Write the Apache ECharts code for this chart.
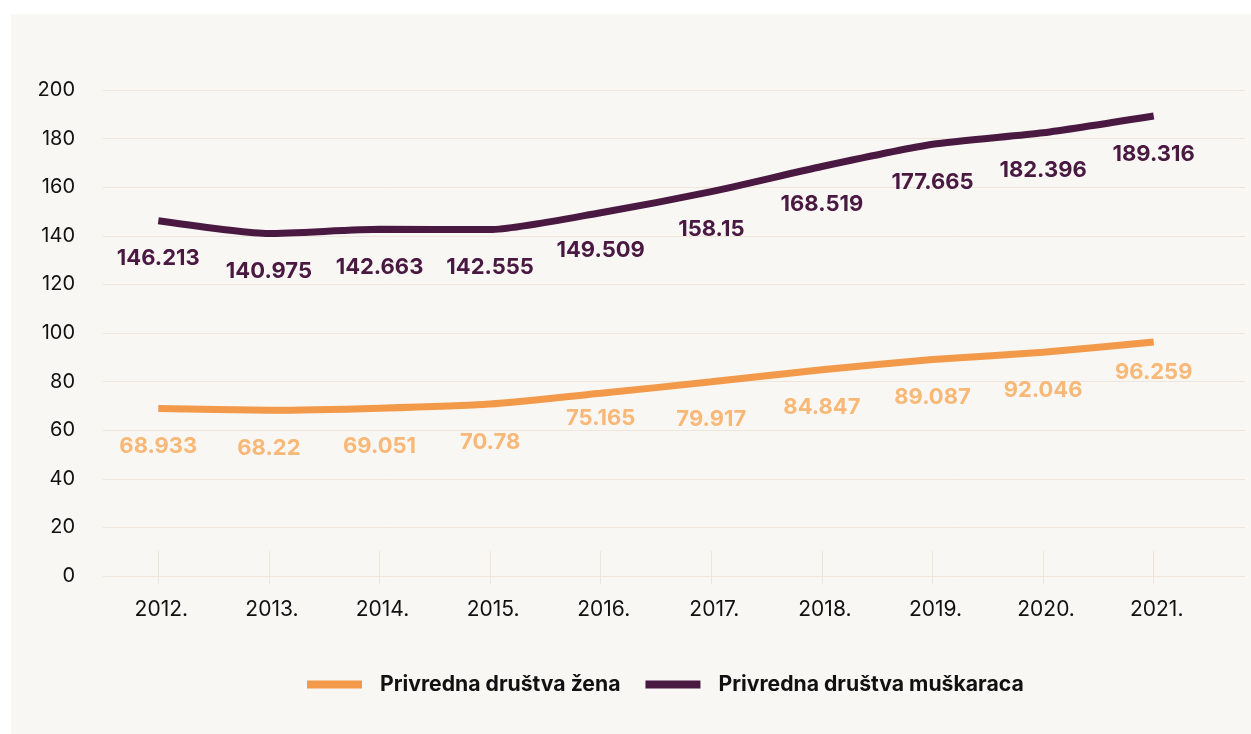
<!DOCTYPE html>
<html>
<head>
<meta charset="utf-8">
<script src="https://cdn.jsdelivr.net/npm/echarts@6/dist/echarts.min.js"></script>
<style>
  html, body { margin: 0; padding: 0; background: #ffffff; width: 1251px; height: 734px; overflow: hidden; }
  #c { position: absolute; left: 11px; top: 14px; width: 1240px; height: 720px; }
</style>
</head>
<body>
<div id="c"></div>
<script>
const categories = ['2012.', '2013.', '2014.', '2015.', '2016.', '2017.', '2018.', '2019.', '2020.', '2021.'];
const zene = [68.933, 68.22, 69.051, 70.78, 75.165, 79.917, 84.847, 89.087, 92.046, 96.259];
const muskarci = [146.213, 140.975, 142.663, 142.555, 149.509, 158.15, 168.519, 177.665, 182.396, 189.316];
const seriesNames = ['Privredna društva žena', 'Privredna društva muškaraca'];

// style-only label nudges (index -> vertical px)
const zeneNudge = {4: -13, 9: -8};

const gridColor = '#f0e5db';
const orange = '#f2994a';
const orangeLabel = '#f8b877';
const plum = '#4a1942';

function withNudge(vals, nudge) {
  return vals.map((v, i) => nudge[i] ? { value: v, label: { offset: [0, nudge[i]] } } : v);
}

const chart = echarts.init(document.getElementById('c'), null, { renderer: 'canvas' });
chart.setOption({
  backgroundColor: '#f9f7f4',
  animation: false,
  textStyle: { fontFamily: 'Inter, "Noto Sans", sans-serif' },
  grid: [
    { left: 92, right: 42, top: 76, bottom: 158 },
    { left: 92, right: 6, top: 76, bottom: 158 }
  ],
  xAxis: [
    {
      type: 'category', gridIndex: 0, data: categories, boundaryGap: true,
      offset: -25,
      axisLine: { show: false },
      axisTick: { show: true, alignWithLabel: true, length: 33, lineStyle: { color: gridColor, width: 1 } },
      axisLabel: { margin: 48, color: '#111111', fontSize: 21, fontFamily: 'Inter', padding: [0, 0, 0, 6] },
      splitLine: { show: false }
    },
    {
      type: 'value', gridIndex: 1, min: 0, max: 1, show: false
    }
  ],
  yAxis: [
    {
      type: 'value', gridIndex: 0, min: 0, max: 200, interval: 20,
      axisLine: { show: false }, axisTick: { show: false },
      axisLabel: { margin: 28, color: '#111111', fontSize: 20, fontFamily: 'Inter' },
      splitLine: { show: false }
    },
    {
      type: 'value', gridIndex: 1, min: 0, max: 200, interval: 20,
      axisLine: { show: false }, axisTick: { show: false }, axisLabel: { show: false },
      splitLine: { show: true, lineStyle: { color: gridColor, width: 1 } }
    }
  ],
  legend: {
    left: 296, top: 660, padding: 0,
    icon: 'rect', itemWidth: 55, itemHeight: 8, itemGap: 25,
    textStyle: { fontFamily: 'Inter', fontWeight: 'bold', fontSize: 21.2, color: '#111111', padding: [0, 0, 0, 13] },
    data: seriesNames
  },
  series: [
    {
      name: seriesNames[0], type: 'line', xAxisIndex: 0, yAxisIndex: 0,
      data: withNudge(zene, zeneNudge), smooth: 0.2, showSymbol: true, symbol: 'circle', symbolSize: 0,
      color: orange,
      itemStyle: { color: orange },
      lineStyle: { color: orange, width: 7, cap: 'butt' },
      label: { show: true, position: 'bottom', distance: 27, color: orangeLabel, fontSize: 22, fontWeight: 'bold', fontFamily: 'Inter' },
      z: 3
    },
    {
      name: seriesNames[1], type: 'line', xAxisIndex: 0, yAxisIndex: 0,
      data: muskarci, smooth: 0.2, showSymbol: true, symbol: 'circle', symbolSize: 0,
      color: plum,
      itemStyle: { color: plum },
      lineStyle: { color: plum, width: 7, cap: 'butt' },
      label: { show: true, position: 'bottom', distance: 27, color: plum, fontSize: 22, fontWeight: 'bold', fontFamily: 'Inter' },
      z: 3
    }
  ]
});
</script>
</body>
</html>
